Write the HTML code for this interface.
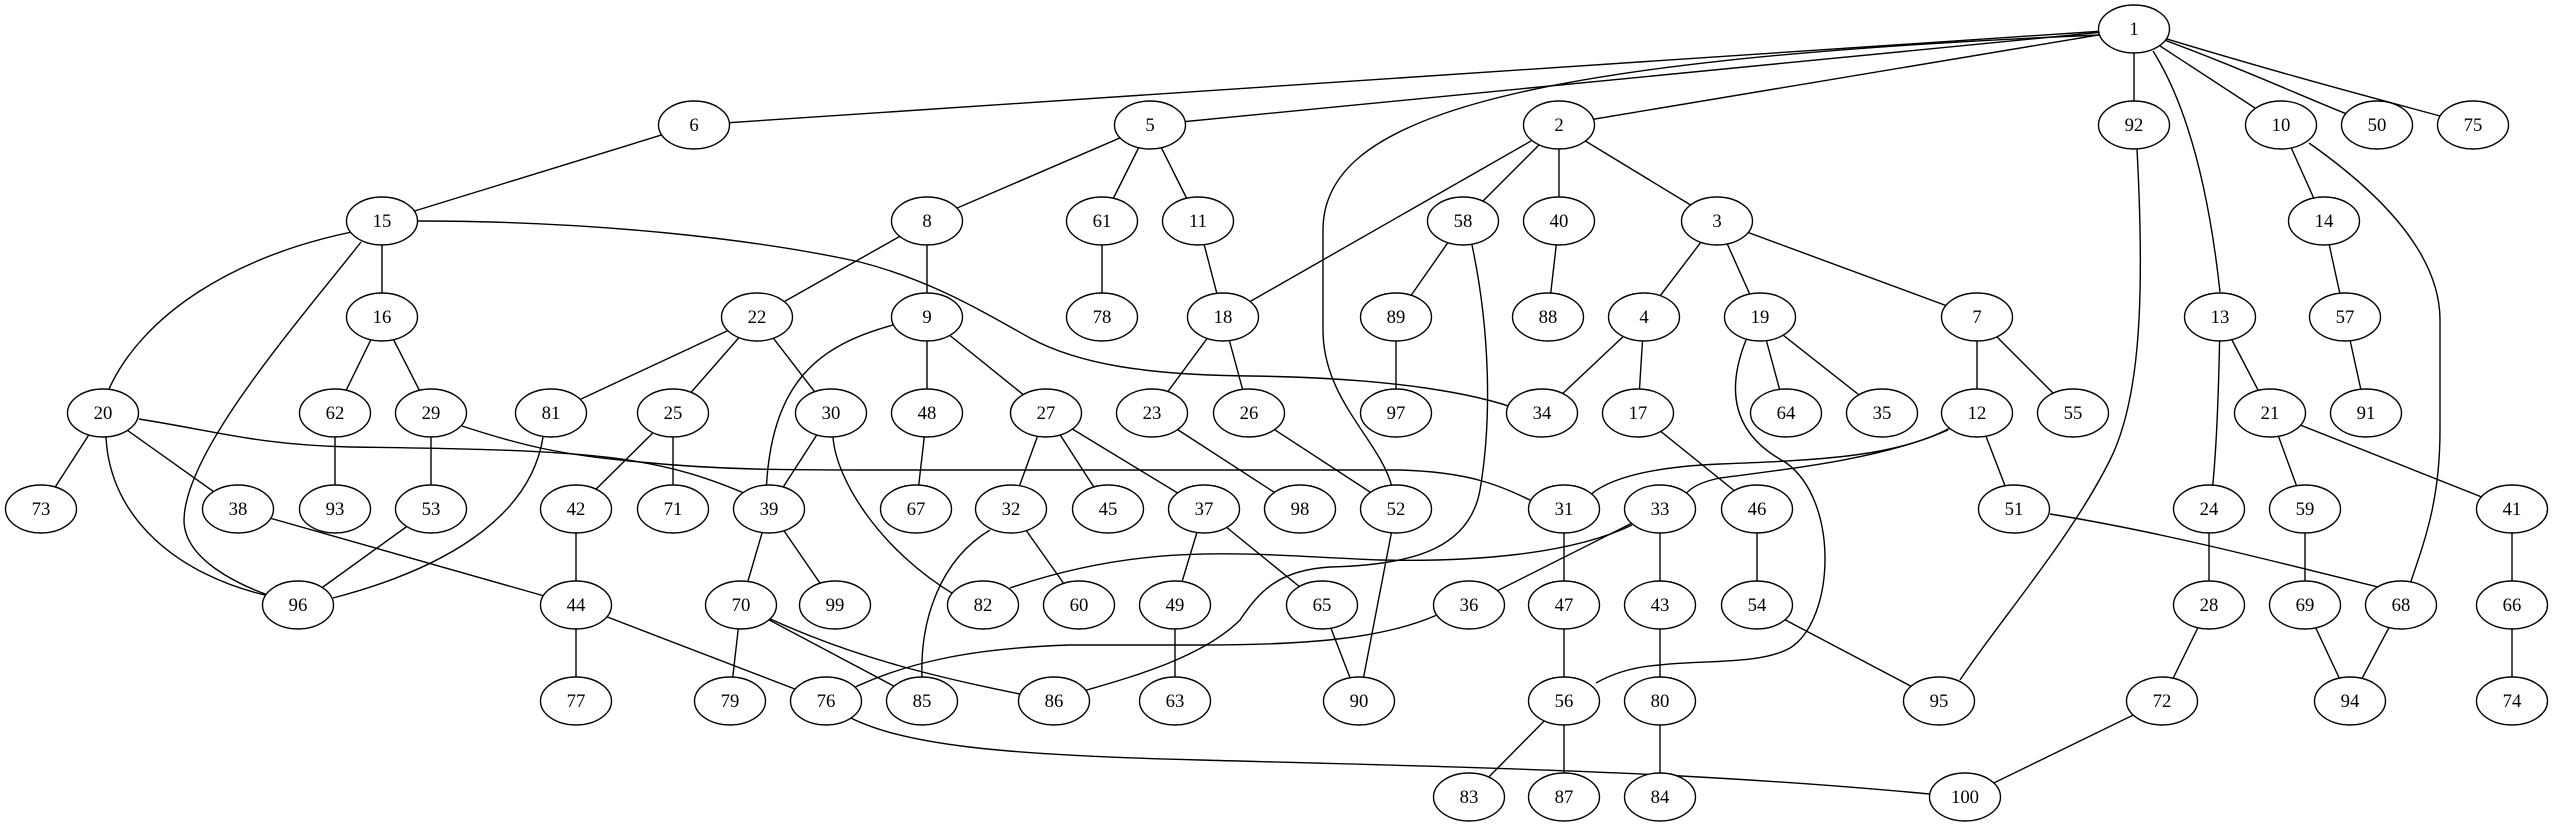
<!DOCTYPE html>
<html><head><meta charset="utf-8"><style>html,body{margin:0;padding:0;background:#fff}svg{display:block}</style></head>
<body>
<svg width="2555" height="827" viewBox="0 0 2555 827" xmlns="http://www.w3.org/2000/svg">
<rect width="2555" height="827" fill="#fff"/>
<g id="edges" stroke="#000" stroke-width="1.4" fill="none">
<line x1="2134" y1="29" x2="694" y2="125"/>
<line x1="2134" y1="29" x2="1150" y2="125"/>
<line x1="2134" y1="29" x2="1559" y2="125"/>
<line x1="2134" y1="29" x2="2134" y2="125"/>
<line x1="2134" y1="29" x2="2281" y2="125"/>
<path d="M2134,29 C2250,70 2330,110 2377,125"/>
<path d="M2134,29 C2300,80 2420,110 2473,125"/>
<path d="M2153,51 C2190,110 2210,200 2220,292"/>
<path d="M2100,35 C1500,60 1323,120 1323,230 L1323,330 C1323,400 1380,440 1392,487"/>
<line x1="694" y1="125" x2="382" y2="221"/>
<line x1="1150" y1="125" x2="927" y2="221"/>
<line x1="1150" y1="125" x2="1102" y2="221"/>
<line x1="1150" y1="125" x2="1198" y2="221"/>
<line x1="1559" y1="125" x2="1223" y2="317"/>
<line x1="1559" y1="125" x2="1463" y2="221"/>
<line x1="1559" y1="125" x2="1559" y2="221"/>
<line x1="1559" y1="125" x2="1717" y2="221"/>
<line x1="2281" y1="125" x2="2324" y2="221"/>
<path d="M2309,143 C2390,200 2440,260 2440,320 L2440,430 C2440,500 2425,540 2410,584"/>
<path d="M2137,149 C2145,300 2140,400 2110,460 C2070,540 2000,620 1960,680"/>
<path d="M385,226 C230,250 140,320 109,389"/>
<path d="M361,242 C300,320 185,450 184,520 C184,560 240,585 268,595"/>
<line x1="382" y1="221" x2="382" y2="317"/>
<path d="M418,221 C600,221 760,240 860,262 C930,280 980,310 1030,338 C1080,365 1150,375 1250,376 C1400,378 1480,395 1520,410"/>
<line x1="927" y1="221" x2="757" y2="317"/>
<line x1="927" y1="221" x2="927" y2="317"/>
<line x1="1102" y1="221" x2="1102" y2="317"/>
<line x1="1198" y1="221" x2="1223" y2="317"/>
<line x1="1463" y1="221" x2="1396" y2="317"/>
<path d="M1472,245 C1490,330 1492,420 1480,490 C1470,545 1420,565 1330,567 C1280,570 1260,590 1240,620 C1200,660 1120,680 1080,692"/>
<line x1="1559" y1="221" x2="1548" y2="317"/>
<line x1="1717" y1="221" x2="1644" y2="317"/>
<line x1="1717" y1="221" x2="1760" y2="317"/>
<line x1="1717" y1="221" x2="1977" y2="317"/>
<line x1="2220" y1="317" x2="2270" y2="413"/>
<path d="M2220,317 C2218,450 2212,500 2209,509"/>
<line x1="2324" y1="221" x2="2345" y2="317"/>
<line x1="2345" y1="317" x2="2366" y2="413"/>
<line x1="382" y1="317" x2="335" y2="413"/>
<line x1="382" y1="317" x2="431" y2="413"/>
<line x1="757" y1="317" x2="551" y2="413"/>
<line x1="757" y1="317" x2="673" y2="413"/>
<line x1="757" y1="317" x2="831" y2="413"/>
<path d="M893,325 C820,345 770,380 766,495"/>
<line x1="927" y1="317" x2="927" y2="413"/>
<line x1="927" y1="317" x2="1046" y2="413"/>
<line x1="1223" y1="317" x2="1152" y2="413"/>
<line x1="1223" y1="317" x2="1249" y2="413"/>
<line x1="1396" y1="317" x2="1396" y2="413"/>
<line x1="1644" y1="317" x2="1542" y2="413"/>
<line x1="1644" y1="317" x2="1638" y2="413"/>
<line x1="1760" y1="317" x2="1786" y2="413"/>
<line x1="1760" y1="317" x2="1882" y2="413"/>
<path d="M1746,340 C1730,380 1725,430 1785,462 C1840,500 1835,620 1790,648 C1760,665 1700,660 1660,665 C1630,667 1610,675 1596,683"/>
<line x1="1977" y1="317" x2="1977" y2="413"/>
<line x1="1977" y1="317" x2="2073" y2="413"/>
<line x1="103" y1="413" x2="41" y2="509"/>
<line x1="103" y1="413" x2="238" y2="509"/>
<path d="M106,437 C110,520 180,575 265,595"/>
<path d="M139,419 C220,432 260,445 350,447 C600,450 660,455 760,500"/>
<line x1="335" y1="413" x2="335" y2="509"/>
<line x1="431" y1="413" x2="431" y2="509"/>
<path d="M462,426 C520,445 560,455 640,462 C720,470 780,470 900,470 L1400,470 C1470,472 1500,485 1540,505"/>
<path d="M543,437 C530,520 440,570 333,598"/>
<line x1="673" y1="413" x2="576" y2="509"/>
<line x1="673" y1="413" x2="673" y2="509"/>
<line x1="831" y1="413" x2="769" y2="509"/>
<path d="M833,437 C836,480 880,550 955,595"/>
<line x1="927" y1="413" x2="916" y2="509"/>
<line x1="1046" y1="413" x2="1011" y2="509"/>
<line x1="1046" y1="413" x2="1108" y2="509"/>
<line x1="1046" y1="413" x2="1204" y2="509"/>
<line x1="1152" y1="413" x2="1300" y2="509"/>
<line x1="1249" y1="413" x2="1396" y2="509"/>
<line x1="1638" y1="413" x2="1757" y2="509"/>
<path d="M1950,428 C1900,455 1830,460 1720,464 C1650,467 1610,478 1590,495"/>
<path d="M1948,430 C1880,460 1780,470 1720,478 C1700,482 1690,488 1685,495"/>
<line x1="1977" y1="413" x2="2014" y2="509"/>
<line x1="2270" y1="413" x2="2305" y2="509"/>
<line x1="2270" y1="413" x2="2512" y2="509"/>
<line x1="431" y1="509" x2="298" y2="605"/>
<line x1="238" y1="509" x2="576" y2="605"/>
<line x1="576" y1="509" x2="576" y2="605"/>
<line x1="769" y1="509" x2="741" y2="605"/>
<line x1="769" y1="509" x2="835" y2="605"/>
<path d="M990,530 C940,560 920,620 922,677"/>
<line x1="1011" y1="509" x2="1079" y2="605"/>
<line x1="1204" y1="509" x2="1175" y2="605"/>
<line x1="1204" y1="509" x2="1322" y2="605"/>
<line x1="1396" y1="509" x2="1359" y2="701"/>
<line x1="1564" y1="509" x2="1564" y2="605"/>
<line x1="1660" y1="509" x2="1469" y2="605"/>
<line x1="1660" y1="509" x2="1660" y2="605"/>
<path d="M1632,525 C1570,555 1470,562 1380,560 C1250,555 1150,540 1010,588"/>
<line x1="1757" y1="509" x2="1757" y2="605"/>
<path d="M2050,514 C2150,530 2250,555 2390,590"/>
<line x1="2209" y1="509" x2="2209" y2="605"/>
<line x1="2305" y1="509" x2="2305" y2="605"/>
<line x1="2512" y1="509" x2="2512" y2="605"/>
<line x1="576" y1="605" x2="576" y2="701"/>
<line x1="576" y1="605" x2="826" y2="701"/>
<line x1="741" y1="605" x2="730" y2="701"/>
<line x1="741" y1="605" x2="922" y2="701"/>
<path d="M741,605 C850,660 950,680 1054,701"/>
<line x1="1175" y1="605" x2="1175" y2="701"/>
<line x1="1322" y1="605" x2="1359" y2="701"/>
<path d="M1437,615 C1380,640 1300,645 1200,645 L1070,645 C980,648 900,660 830,700"/>
<line x1="1564" y1="605" x2="1564" y2="701"/>
<line x1="1660" y1="605" x2="1660" y2="701"/>
<line x1="1757" y1="605" x2="1939" y2="701"/>
<line x1="2209" y1="605" x2="2162" y2="701"/>
<line x1="2305" y1="605" x2="2350" y2="701"/>
<line x1="2401" y1="605" x2="2350" y2="701"/>
<line x1="2512" y1="605" x2="2512" y2="701"/>
<path d="M845,715 C900,745 1000,755 1200,760 C1500,768 1700,772 1940,795"/>
<line x1="2162" y1="701" x2="1965" y2="797"/>
<line x1="1564" y1="701" x2="1469" y2="797"/>
<line x1="1564" y1="701" x2="1564" y2="797"/>
<line x1="1660" y1="701" x2="1660" y2="797"/>
</g>
<g stroke="#000" stroke-width="1.4" fill="#fff">
<ellipse cx="2134" cy="29" rx="35.5" ry="24"/>
<ellipse cx="694" cy="125" rx="35.5" ry="24"/><ellipse cx="1150" cy="125" rx="35.5" ry="24"/><ellipse cx="1559" cy="125" rx="35.5" ry="24"/><ellipse cx="2134" cy="125" rx="35.5" ry="24"/><ellipse cx="2281" cy="125" rx="35.5" ry="24"/><ellipse cx="2377" cy="125" rx="35.5" ry="24"/><ellipse cx="2473" cy="125" rx="35.5" ry="24"/>
<ellipse cx="382" cy="221" rx="35.5" ry="24"/><ellipse cx="927" cy="221" rx="35.5" ry="24"/><ellipse cx="1102" cy="221" rx="35.5" ry="24"/><ellipse cx="1198" cy="221" rx="35.5" ry="24"/><ellipse cx="1463" cy="221" rx="35.5" ry="24"/><ellipse cx="1559" cy="221" rx="35.5" ry="24"/><ellipse cx="1717" cy="221" rx="35.5" ry="24"/><ellipse cx="2324" cy="221" rx="35.5" ry="24"/>
<ellipse cx="382" cy="317" rx="35.5" ry="24"/><ellipse cx="757" cy="317" rx="35.5" ry="24"/><ellipse cx="927" cy="317" rx="35.5" ry="24"/><ellipse cx="1102" cy="317" rx="35.5" ry="24"/><ellipse cx="1223" cy="317" rx="35.5" ry="24"/><ellipse cx="1396" cy="317" rx="35.5" ry="24"/><ellipse cx="1548" cy="317" rx="35.5" ry="24"/><ellipse cx="1644" cy="317" rx="35.5" ry="24"/><ellipse cx="1760" cy="317" rx="35.5" ry="24"/><ellipse cx="1977" cy="317" rx="35.5" ry="24"/><ellipse cx="2220" cy="317" rx="35.5" ry="24"/><ellipse cx="2345" cy="317" rx="35.5" ry="24"/>
<ellipse cx="103" cy="413" rx="35.5" ry="24"/><ellipse cx="335" cy="413" rx="35.5" ry="24"/><ellipse cx="431" cy="413" rx="35.5" ry="24"/><ellipse cx="551" cy="413" rx="35.5" ry="24"/><ellipse cx="673" cy="413" rx="35.5" ry="24"/><ellipse cx="831" cy="413" rx="35.5" ry="24"/><ellipse cx="927" cy="413" rx="35.5" ry="24"/><ellipse cx="1046" cy="413" rx="35.5" ry="24"/><ellipse cx="1152" cy="413" rx="35.5" ry="24"/><ellipse cx="1249" cy="413" rx="35.5" ry="24"/><ellipse cx="1396" cy="413" rx="35.5" ry="24"/><ellipse cx="1542" cy="413" rx="35.5" ry="24"/><ellipse cx="1638" cy="413" rx="35.5" ry="24"/><ellipse cx="1786" cy="413" rx="35.5" ry="24"/><ellipse cx="1882" cy="413" rx="35.5" ry="24"/><ellipse cx="1977" cy="413" rx="35.5" ry="24"/><ellipse cx="2073" cy="413" rx="35.5" ry="24"/><ellipse cx="2270" cy="413" rx="35.5" ry="24"/><ellipse cx="2366" cy="413" rx="35.5" ry="24"/>
<ellipse cx="41" cy="509" rx="35.5" ry="24"/><ellipse cx="238" cy="509" rx="35.5" ry="24"/><ellipse cx="335" cy="509" rx="35.5" ry="24"/><ellipse cx="431" cy="509" rx="35.5" ry="24"/><ellipse cx="576" cy="509" rx="35.5" ry="24"/><ellipse cx="673" cy="509" rx="35.5" ry="24"/><ellipse cx="769" cy="509" rx="35.5" ry="24"/><ellipse cx="916" cy="509" rx="35.5" ry="24"/><ellipse cx="1011" cy="509" rx="35.5" ry="24"/><ellipse cx="1108" cy="509" rx="35.5" ry="24"/><ellipse cx="1204" cy="509" rx="35.5" ry="24"/><ellipse cx="1300" cy="509" rx="35.5" ry="24"/><ellipse cx="1396" cy="509" rx="35.5" ry="24"/><ellipse cx="1564" cy="509" rx="35.5" ry="24"/><ellipse cx="1660" cy="509" rx="35.5" ry="24"/><ellipse cx="1757" cy="509" rx="35.5" ry="24"/><ellipse cx="2014" cy="509" rx="35.5" ry="24"/><ellipse cx="2209" cy="509" rx="35.5" ry="24"/><ellipse cx="2305" cy="509" rx="35.5" ry="24"/><ellipse cx="2512" cy="509" rx="35.5" ry="24"/>
<ellipse cx="298" cy="605" rx="35.5" ry="24"/><ellipse cx="576" cy="605" rx="35.5" ry="24"/><ellipse cx="741" cy="605" rx="35.5" ry="24"/><ellipse cx="835" cy="605" rx="35.5" ry="24"/><ellipse cx="983" cy="605" rx="35.5" ry="24"/><ellipse cx="1079" cy="605" rx="35.5" ry="24"/><ellipse cx="1175" cy="605" rx="35.5" ry="24"/><ellipse cx="1322" cy="605" rx="35.5" ry="24"/><ellipse cx="1469" cy="605" rx="35.5" ry="24"/><ellipse cx="1564" cy="605" rx="35.5" ry="24"/><ellipse cx="1660" cy="605" rx="35.5" ry="24"/><ellipse cx="1757" cy="605" rx="35.5" ry="24"/><ellipse cx="2209" cy="605" rx="35.5" ry="24"/><ellipse cx="2305" cy="605" rx="35.5" ry="24"/><ellipse cx="2401" cy="605" rx="35.5" ry="24"/><ellipse cx="2512" cy="605" rx="35.5" ry="24"/>
<ellipse cx="576" cy="701" rx="35.5" ry="24"/><ellipse cx="730" cy="701" rx="35.5" ry="24"/><ellipse cx="826" cy="701" rx="35.5" ry="24"/><ellipse cx="922" cy="701" rx="35.5" ry="24"/><ellipse cx="1054" cy="701" rx="35.5" ry="24"/><ellipse cx="1175" cy="701" rx="35.5" ry="24"/><ellipse cx="1359" cy="701" rx="35.5" ry="24"/><ellipse cx="1564" cy="701" rx="35.5" ry="24"/><ellipse cx="1660" cy="701" rx="35.5" ry="24"/><ellipse cx="1939" cy="701" rx="35.5" ry="24"/><ellipse cx="2162" cy="701" rx="35.5" ry="24"/><ellipse cx="2350" cy="701" rx="35.5" ry="24"/><ellipse cx="2512" cy="701" rx="35.5" ry="24"/>
<ellipse cx="1469" cy="797" rx="35.5" ry="24"/><ellipse cx="1564" cy="797" rx="35.5" ry="24"/><ellipse cx="1660" cy="797" rx="35.5" ry="24"/><ellipse cx="1965" cy="797" rx="35.5" ry="24"/>
</g>
<g font-family="'Liberation Serif', serif" font-size="18.7" text-anchor="middle" fill="#000">
<text x="2134" y="35">1</text>
<text x="694" y="131">6</text><text x="1150" y="131">5</text><text x="1559" y="131">2</text><text x="2134" y="131">92</text><text x="2281" y="131">10</text><text x="2377" y="131">50</text><text x="2473" y="131">75</text>
<text x="382" y="227">15</text><text x="927" y="227">8</text><text x="1102" y="227">61</text><text x="1198" y="227">11</text><text x="1463" y="227">58</text><text x="1559" y="227">40</text><text x="1717" y="227">3</text><text x="2324" y="227">14</text>
<text x="382" y="323">16</text><text x="757" y="323">22</text><text x="927" y="323">9</text><text x="1102" y="323">78</text><text x="1223" y="323">18</text><text x="1396" y="323">89</text><text x="1548" y="323">88</text><text x="1644" y="323">4</text><text x="1760" y="323">19</text><text x="1977" y="323">7</text><text x="2220" y="323">13</text><text x="2345" y="323">57</text>
<text x="103" y="419">20</text><text x="335" y="419">62</text><text x="431" y="419">29</text><text x="551" y="419">81</text><text x="673" y="419">25</text><text x="831" y="419">30</text><text x="927" y="419">48</text><text x="1046" y="419">27</text><text x="1152" y="419">23</text><text x="1249" y="419">26</text><text x="1396" y="419">97</text><text x="1542" y="419">34</text><text x="1638" y="419">17</text><text x="1786" y="419">64</text><text x="1882" y="419">35</text><text x="1977" y="419">12</text><text x="2073" y="419">55</text><text x="2270" y="419">21</text><text x="2366" y="419">91</text>
<text x="41" y="515">73</text><text x="238" y="515">38</text><text x="335" y="515">93</text><text x="431" y="515">53</text><text x="576" y="515">42</text><text x="673" y="515">71</text><text x="769" y="515">39</text><text x="916" y="515">67</text><text x="1011" y="515">32</text><text x="1108" y="515">45</text><text x="1204" y="515">37</text><text x="1300" y="515">98</text><text x="1396" y="515">52</text><text x="1564" y="515">31</text><text x="1660" y="515">33</text><text x="1757" y="515">46</text><text x="2014" y="515">51</text><text x="2209" y="515">24</text><text x="2305" y="515">59</text><text x="2512" y="515">41</text>
<text x="298" y="611">96</text><text x="576" y="611">44</text><text x="741" y="611">70</text><text x="835" y="611">99</text><text x="983" y="611">82</text><text x="1079" y="611">60</text><text x="1175" y="611">49</text><text x="1322" y="611">65</text><text x="1469" y="611">36</text><text x="1564" y="611">47</text><text x="1660" y="611">43</text><text x="1757" y="611">54</text><text x="2209" y="611">28</text><text x="2305" y="611">69</text><text x="2401" y="611">68</text><text x="2512" y="611">66</text>
<text x="576" y="707">77</text><text x="730" y="707">79</text><text x="826" y="707">76</text><text x="922" y="707">85</text><text x="1054" y="707">86</text><text x="1175" y="707">63</text><text x="1359" y="707">90</text><text x="1564" y="707">56</text><text x="1660" y="707">80</text><text x="1939" y="707">95</text><text x="2162" y="707">72</text><text x="2350" y="707">94</text><text x="2512" y="707">74</text>
<text x="1469" y="803">83</text><text x="1564" y="803">87</text><text x="1660" y="803">84</text><text x="1965" y="803">100</text>
</g>
</svg>
</body></html>
